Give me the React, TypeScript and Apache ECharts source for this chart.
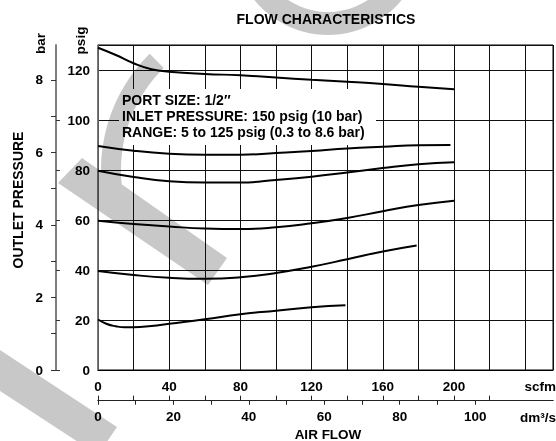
import { useEffect, useRef } from "react";
import * as echarts from "echarts";

// Axis tick labels
const scfmLabels = [0, 40, 80, 120, 160, 200];
const scfmTicks = [0, 20, 40, 60, 80, 100, 120, 140, 160, 180, 200, 220];
const dm3Labels = [0, 20, 40, 60, 80, 100];
const dm3Ticks = [0, 10, 20, 30, 40, 50, 60, 70, 80, 90, 100];
const psigLabels = [0, 20, 40, 60, 80, 100, 120];
const psigTicks = [0, 20, 40, 60, 80, 100];
const barLabels = [0, 2, 4, 6, 8];
const barTicks = [0, 1, 2, 3, 4, 5, 6, 7, 8];

// Outlet pressure (psig) against air flow (scfm), one curve per set pressure
const curve120: [number, number][] = [
  [0, 128.9], [10, 126], [20, 122.7], [30, 120.3], [40, 119.3], [60, 118.4],
  [80, 117.9], [100, 117], [120, 116.1], [140, 115.3], [160, 114.4], [180, 113.3], [200, 112.3],
];
const curve90: [number, number][] = [
  [0, 89.6], [20, 87.7], [40, 86.5], [60, 86.1], [80, 86.1], [100, 86.8],
  [120, 87.6], [140, 88.6], [160, 89.3], [180, 89.9], [198, 90],
];
const curve80: [number, number][] = [
  [0, 79.7], [20, 77.2], [40, 75.5], [60, 75], [80, 75], [100, 76],
  [120, 77.3], [140, 79], [160, 80.8], [180, 82.3], [200, 83.1],
];
const curve60: [number, number][] = [
  [0, 59.7], [20, 58.4], [40, 57.4], [60, 56.6], [80, 56.4], [100, 57.1],
  [120, 58.7], [140, 60.8], [160, 63.5], [180, 66], [200, 67.7],
];
const curve40: [number, number][] = [
  [0, 39.6], [20, 38], [40, 36.9], [60, 36.5], [80, 37.1], [100, 38.8],
  [120, 41.3], [140, 44.3], [160, 47.4], [179, 49.8],
];
const curve20: [number, number][] = [
  [0, 20.2], [5, 18.4], [10, 17.5], [15, 17.1], [20, 17.1], [30, 17.6], [40, 18.5],
  [60, 20.3], [80, 22.3], [100, 23.7], [120, 25.1], [139, 25.9],
];

const curves = [curve120, curve90, curve80, curve60, curve40, curve20];

const infoLines = [
  "PORT SIZE: 1/2\u2033",
  "INLET PRESSURE: 150 psig (10 bar)",
  "RANGE: 5 to 125 psig (0.3 to 8.6 bar)",
];

const SCFM_MAX = 255.6;
const PSIG_MAX = 130;
const SCFM_TO_DM3 = 0.4719474;
const PSIG_PER_BAR = 14.5038;

const FONT = "Liberation Sans, Arial, Helvetica, sans-serif";
const FS = 13.5;

function arcPoints(cx: number, cy: number, r: number, a0: number, a1: number, n: number) {
  const pts: number[][] = [];
  for (let i = 0; i <= n; i++) {
    const a = ((a0 + ((a1 - a0) * i) / n) * Math.PI) / 180;
    pts.push([cx + r * Math.cos(a), cy + r * Math.sin(a)]);
  }
  return pts;
}

function boldText(text: string, x: number, y: number, align: string, size = FS, extra: any = {}) {
  return {
    type: "text",
    x,
    y,
    z: 5,
    ...extra,
    style: {
      text,
      fill: "#000",
      font: `bold ${size}px ${FONT}`,
      align,
      textAlign: align,
      verticalAlign: "middle",
      textVerticalAlign: "middle",
    },
  };
}

const near = (list: number[], v: number) => list.some((t) => Math.abs(t - v) < 1e-6);

export default function App() {
  const ref = useRef<HTMLDivElement>(null);

  useEffect(() => {
    if (!ref.current) return;
    const chart = echarts.init(ref.current, undefined, { renderer: "svg" });

    const labelStyle = { color: "#000", fontWeight: "bold" as const, fontSize: FS, fontFamily: FONT };

    // Watermark: a curved stroke joined to a diagonal bar, plus two more pieces
    const markShape = [
      ...arcPoints(264, 170, 163, 225.5, 179.6, 40),
      [82, 158],
      [58, 183],
      [208, 285],
      [227, 258],
      ...arcPoints(264, 170, 143, 174.3, 225.5, 40),
    ];
    const markFill = "rgba(0,0,0,0.215)";

    const option: any = {
      animation: false,
      grid: [
        // 0: plotting area
        { left: 98, top: 45, width: 455, height: 325, show: true, borderColor: "#000", borderWidth: 1 },
        // 1: strip carrying the bar scale
        { left: 56, top: 45, width: 1, height: 325 },
        // 2: strip carrying the dm3/s scale
        { left: 98, top: 399.7, width: 455, height: 1 },
      ],
      xAxis: [
        {
          type: "value",
          gridIndex: 0,
          position: "bottom",
          min: 0,
          max: SCFM_MAX,
          interval: 20,
          axisLine: { show: true, lineStyle: { color: "#000" } },
          axisTick: { show: false },
          axisLabel: {
            ...labelStyle,
            margin: 9,
            formatter: (v: number) => (near(scfmLabels, v) ? String(v) : ""),
          },
          splitLine: { show: true, lineStyle: { color: "#111" } },
        },
        {
          type: "value",
          gridIndex: 2,
          position: "bottom",
          min: 0,
          max: SCFM_MAX,
          interval: 20,
          axisLine: { show: true, lineStyle: { color: "#222" } },
          axisTick: { show: true, inside: true, length: 5, customValues: scfmTicks, lineStyle: { color: "#222" } },
          axisLabel: { show: false },
          splitLine: { show: false },
        },
        {
          type: "value",
          gridIndex: 2,
          position: "bottom",
          min: 0,
          max: SCFM_MAX * SCFM_TO_DM3,
          interval: 10,
          axisLine: { show: true, lineStyle: { color: "#222" } },
          axisTick: { show: true, inside: false, length: 4, customValues: dm3Ticks, lineStyle: { color: "#222" } },
          axisLabel: {
            ...labelStyle,
            margin: 9,
            formatter: (v: number) => (near(dm3Labels, v) ? String(v) : ""),
          },
          splitLine: { show: false },
        },
        { type: "value", gridIndex: 1, show: false, min: 0, max: 1 },
      ],
      yAxis: [
        {
          type: "value",
          gridIndex: 0,
          position: "left",
          min: 0,
          max: PSIG_MAX,
          interval: 20,
          axisLine: { show: true, lineStyle: { color: "#777", width: 1.5 } },
          axisTick: { show: false },
          axisLabel: {
            ...labelStyle,
            margin: 8,
            formatter: (v: number) => (near(psigLabels, v) ? String(v) : ""),
          },
          splitLine: { show: true, lineStyle: { color: "#111" } },
        },
        {
          type: "value",
          gridIndex: 1,
          position: "left",
          min: 0,
          max: PSIG_MAX / PSIG_PER_BAR,
          interval: 1,
          axisLine: { show: true, lineStyle: { color: "#777", width: 1.5 } },
          axisTick: { show: true, inside: false, length: 5, customValues: barTicks, lineStyle: { color: "#333" } },
          axisLabel: {
            ...labelStyle,
            margin: 13,
            formatter: (v: number) => (near(barLabels, v) ? String(v) : ""),
          },
          splitLine: { show: false },
        },
        {
          type: "value",
          gridIndex: 1,
          position: "left",
          min: 0,
          max: PSIG_MAX,
          interval: 20,
          axisLine: { show: true, lineStyle: { color: "#777", width: 1.5 } },
          axisTick: { show: true, inside: true, length: 4, customValues: psigTicks, lineStyle: { color: "#333" } },
          axisLabel: { show: false },
          splitLine: { show: false },
        },
        { type: "value", gridIndex: 2, show: false, min: 0, max: 1 },
      ],
      series: curves.map((data) => ({
        type: "line",
        xAxisIndex: 0,
        yAxisIndex: 0,
        data,
        smooth: 0.5,
        showSymbol: false,
        symbol: "none",
        z: 3,
        lineStyle: { color: "#000", width: 2 },
      })),
      graphic: [
        // white panel behind the port / pressure notes
        { type: "rect", z: 1, shape: { x: 119, y: 89, width: 257, height: 56 }, style: { fill: "#fff" } },
        ...infoLines.map((t, i) => boldText(t, 122, 99.5 + i * 16.2, "left", 14)),
        boldText("FLOW CHARACTERISTICS", 326, 19, "center", 14),
        boldText("OUTLET PRESSURE", 18, 200, "center", 14, { rotation: Math.PI / 2 }),
        boldText("bar", 40, 43.5, "center", FS, { rotation: Math.PI / 2 }),
        boldText("psig", 80, 40.5, "center", FS, { rotation: Math.PI / 2 }),
        boldText("scfm", 556, 386, "right"),
        boldText("dm\u00b3/s", 556, 417, "right"),
        boldText("AIR FLOW", 328, 434.5, "center"),
        // watermark pieces
        { type: "polygon", z: 10, silent: true, shape: { points: markShape }, style: { fill: markFill } },
        { type: "ring", z: 10, silent: true, shape: { cx: 328, cy: -60, r: 95, r0: 72 }, style: { fill: markFill } },
        {
          type: "polygon",
          z: 10,
          silent: true,
          shape: { points: [[0, 350], [117, 427], [98, 455], [0, 391]] },
          style: { fill: markFill },
        },
      ],
    };

    chart.setOption(option);
    return () => chart.dispose();
  }, []);

  return <div ref={ref} style={{ position: "fixed", left: 0, top: 0, width: 556, height: 441 }} />;
}
